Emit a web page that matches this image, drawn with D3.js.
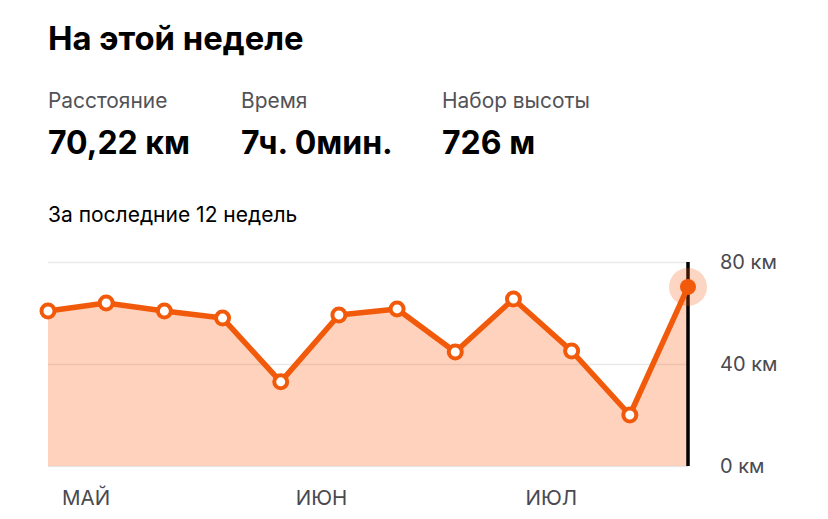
<!DOCTYPE html>
<html>
<head>
<meta charset="utf-8">
<script src="https://d3js.org/d3.v7.min.js"></script>
<style>
body { margin: 0; background: #fff; }
svg { display: block; }
text { font-family: Inter, "Noto Sans", sans-serif; }
.grid line { stroke: #000; stroke-opacity: 0.09; stroke-width: 1.5; }
.axis text { font-size: 20px; fill: #494950; }
.axis path, .axis line { display: none; }
</style>
</head>
<body>
<div id="chart"></div>
<script>
// Weekly distance, km
var weeks = [1, 2, 3, 4, 5, 6, 7, 8, 9, 10, 11, 12];
var distance = [60.8, 63.9, 60.8, 58, 33, 59.2, 61.6, 44.7, 65.5, 45.1, 20, 70.22];
var yTicks = [0, 40, 80];
var monthNames = ["МАЙ", "ИЮН", "ИЮЛ"];
var monthWeeks = [1, 5, 9];
var statLabels = ["Расстояние", "Время", "Набор высоты"];
var statValues = ["70,22 км", "7ч. 0мин.", "726 м"];

var orange = "#f25a0b";

var svg = d3.select("#chart")
            .append("svg")
            .attr("width", 828)
            .attr("height", 519);

// Header
svg.append("text")
   .attr("x", 48)
   .attr("y", 50)
   .attr("font-size", 32.8)
   .attr("font-weight", 700)
   .attr("fill", "#000")
   .text("На этой неделе");

var statX = [48, 241, 442];
statLabels.forEach(function (d, i) {
  svg.append("text")
     .attr("x", statX[i])
     .attr("y", 108)
     .attr("font-size", 20.9)
     .attr("fill", "#525257")
     .text(d);
  svg.append("text")
     .attr("x", statX[i])
     .attr("y", 154)
     .attr("font-size", 32)
     .attr("font-weight", 700)
     .attr("fill", "#000")
     .text(statValues[i]);
});

svg.append("text")
   .attr("x", 48)
   .attr("y", 222)
   .attr("font-size", 21)
   .attr("fill", "#000")
   .text("За последние 12 недель");

// Scales
var x = d3.scalePoint()
          .domain(weeks)
          .range([48, 688]);
var y = d3.scaleLinear()
          .domain([0, 80])
          .range([466, 262]);

// Gridlines
svg.append("g")
   .attr("class", "grid")
   .attr("transform", "translate(48,0)")
   .call(d3.axisLeft(y).tickValues(yTicks).tickFormat("").tickSize(-640))
   .select(".domain").remove();

// Area
var area = d3.area()
             .x(function (d, i) { return x(weeks[i]); })
             .y0(y(0))
             .y1(function (d) { return y(d); });
svg.append("path")
   .datum(distance)
   .attr("d", area)
   .attr("fill", "#ff5a0a")
   .attr("fill-opacity", 0.27);

// Current week marker
var last = weeks.length - 1;
svg.append("line")
   .attr("x1", x(weeks[last]))
   .attr("x2", x(weeks[last]))
   .attr("y1", y(80))
   .attr("y2", y(0))
   .attr("stroke", "#000")
   .attr("stroke-width", 3.5);
svg.append("circle")
   .attr("cx", x(weeks[last]))
   .attr("cy", y(distance[last]))
   .attr("r", 19)
   .attr("fill", orange)
   .attr("fill-opacity", 0.25);

// Line
var line = d3.line()
             .x(function (d, i) { return x(weeks[i]); })
             .y(function (d) { return y(d); });
svg.append("path")
   .datum(distance)
   .attr("d", line)
   .attr("fill", "none")
   .attr("stroke", orange)
   .attr("stroke-width", 5.5)
   .attr("stroke-linejoin", "round");

// Points
svg.selectAll(".pt")
   .data(distance)
   .enter()
   .append("circle")
   .attr("class", "pt")
   .attr("cx", function (d, i) { return x(weeks[i]); })
   .attr("cy", function (d) { return y(d); })
   .attr("r", function (d, i) { return i == last ? 8 : 6.5; })
   .attr("fill", function (d, i) { return i == last ? orange : "#fff"; })
   .attr("stroke", orange)
   .attr("stroke-width", function (d, i) { return i == last ? 0 : 4; });

// Axis labels
svg.append("g")
   .attr("class", "axis")
   .attr("transform", "translate(720,0)")
   .call(d3.axisRight(y).tickValues(yTicks).tickSize(0).tickPadding(0)
           .tickFormat(function (d) { return d + " км"; }));

var monthShift = [14, 15, 12];
svg.selectAll(".month")
   .data(monthNames)
   .enter()
   .append("text")
   .attr("class", "month")
   .attr("x", function (d, i) { return x(monthWeeks[i]) + monthShift[i]; })
   .attr("y", 505)
   .attr("font-size", 20.5)
   .attr("fill", "#494950")
   .text(function (d) { return d; });
</script>
</body>
</html>
